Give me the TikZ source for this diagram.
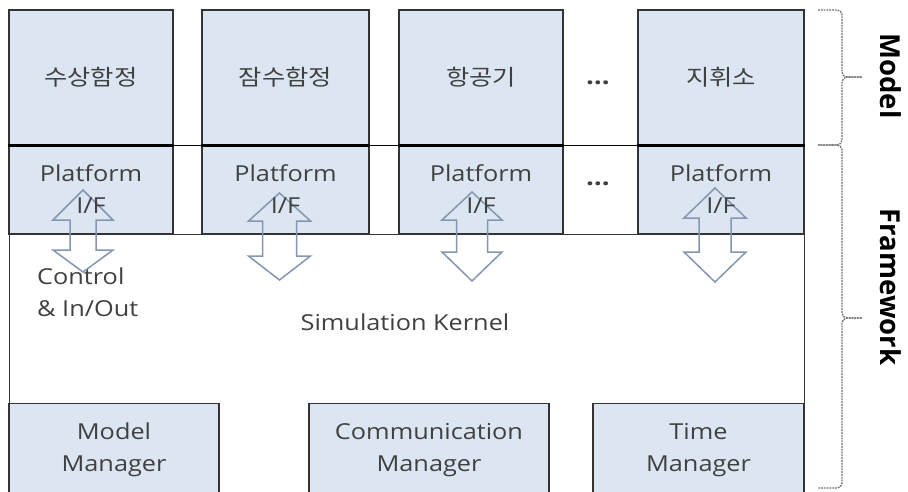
\documentclass[tikz,border=0pt]{standalone}
\usepackage{fontspec}
\setmainfont{Open Sans}[FakeStretch=1.15]
\newfontfamily\kr{Noto Sans CJK KR}[FakeStretch=1.15]
\newfontfamily\sidefont{Open Sans}
\definecolor{boxfill}{HTML}{DCE6F2}
\definecolor{boxline}{HTML}{333333}
\definecolor{txt}{HTML}{404040}
\definecolor{arrline}{HTML}{8496B0}
\definecolor{braceline}{HTML}{6E6E6E}
\newcommand\blockarrowUD[7]{%
  \draw[blockarrow] (#1,#4) -- (#1+#2,#5) -- (#1+#3,#5) -- (#1+#3,#6) -- (#1+#2,#6)
    -- (#1,#7) -- (#1-#2,#6) -- (#1-#3,#6) -- (#1-#3,#5) -- (#1-#2,#5) -- cycle;}
\begin{document}
\begin{tikzpicture}[x=1pt,y=-1pt,
  every node/.style={text=txt,font=\fontsize{22}{32}\selectfont},
  bluebox/.style={draw=boxline,line width=1.4pt,fill=boxfill,inner sep=0pt,align=center},
  mbox/.style={bluebox,minimum height=135pt},
  pbox/.style={bluebox,minimum height=89pt},
  lowbox/.style={bluebox,minimum height=92pt},
  blockarrow/.style={draw=arrline,line width=1.5pt,line join=miter},
  bracestyle/.style={draw=braceline,line width=1.3pt,dash pattern=on 1.8pt off 1pt,rounded corners=5pt},
  sidelabel/.style={font=\sidefont\bfseries\fontsize{27.5}{30}\selectfont,text=black,rotate=-90,inner sep=0pt}]
\useasboundingbox (0,0) rectangle (908,491);
\clip (0,0) rectangle (908,491);
% framework frame
\node[draw=boxline,line width=1.4pt,fill=white,minimum width=795pt,minimum height=262pt,anchor=north west,inner sep=0pt] (kernel) at (9,234) {};
% model boxes
\node[mbox,minimum width=164pt] (m1) at (91,77.5) {\kr 수상함정};
\node[mbox,minimum width=167pt] (m2) at (285.5,77.5) {\kr 잠수함정};
\node[mbox,minimum width=164pt] (m3) at (481,77.5) {\kr 항공기};
\node[mbox,minimum width=166pt] (m4) at (721,77.5) {\kr 지휘소};
% platform boxes
\node[pbox,minimum width=164pt] (p1) at (91,189.5) {};
\node[pbox,minimum width=167pt] (p2) at (285.5,189.5) {};
\node[pbox,minimum width=164pt] (p3) at (481,189.5) {};
\node[pbox,minimum width=166pt] (p4) at (721,189.5) {};
% separator line
\draw[black,line width=1.3pt] (m1.south west) -- (m4.south east);
\foreach \n in {m1,m2,m3,m4}{\draw[black,line width=3pt] (\n.south west) -- (\n.south east);}
% manager boxes
\node[lowbox,anchor=north,minimum width=210pt] (mm) at (114,403) {Model\\Manager};
\node[lowbox,anchor=north,minimum width=240pt] (cm) at (429,403) {Communication\\Manager};
\node[lowbox,anchor=north,minimum width=211pt] (tm) at (698.5,403) {Time\\Manager};
% block arrows
\blockarrowUD{83}{30}{13}{190}{220}{250}{272}
\blockarrowUD{279.5}{31}{17}{193}{221}{256}{280}
\blockarrowUD{472}{30}{15.5}{192}{220}{252}{281}
\blockarrowUD{715}{31}{16}{188}{218}{252}{282}
% platform labels
\foreach \n in {p1,p2,p3,p4}{\node[align=center,inner sep=0pt] at (\n) {Platform\\I/F};}
% dots
\node[anchor=base,inner sep=0pt,font=\bfseries\fontsize{24}{30}\selectfont] (dots1) at (598,84) {…};
\node[anchor=base,inner sep=0pt,font=\bfseries\fontsize{24}{30}\selectfont] (dots2) at (598,185) {…};
% kernel texts
\node[align=left,anchor=west,inner sep=0pt] (ctrl) at (37,292) {Control\\\& In/Out};
\node[inner sep=0pt] (simk) at (405,322) {Simulation Kernel};
% braces
\draw[bracestyle] (818,10) -- (842,10) -- (842,77) -- (862,77);
\draw[bracestyle] (862,77) -- (842,77) -- (842,145) -- (818,145);
\draw[bracestyle] (818,145) -- (842,145) -- (842,318) -- (862,318);
\draw[bracestyle] (862,318) -- (842,318) -- (842,488) -- (818,488);
% side labels
\node[sidelabel] (modellab) at (891,76) {Model};
\node[sidelabel] (fwlab) at (891,287) {Framework};
\end{tikzpicture}
\end{document}
